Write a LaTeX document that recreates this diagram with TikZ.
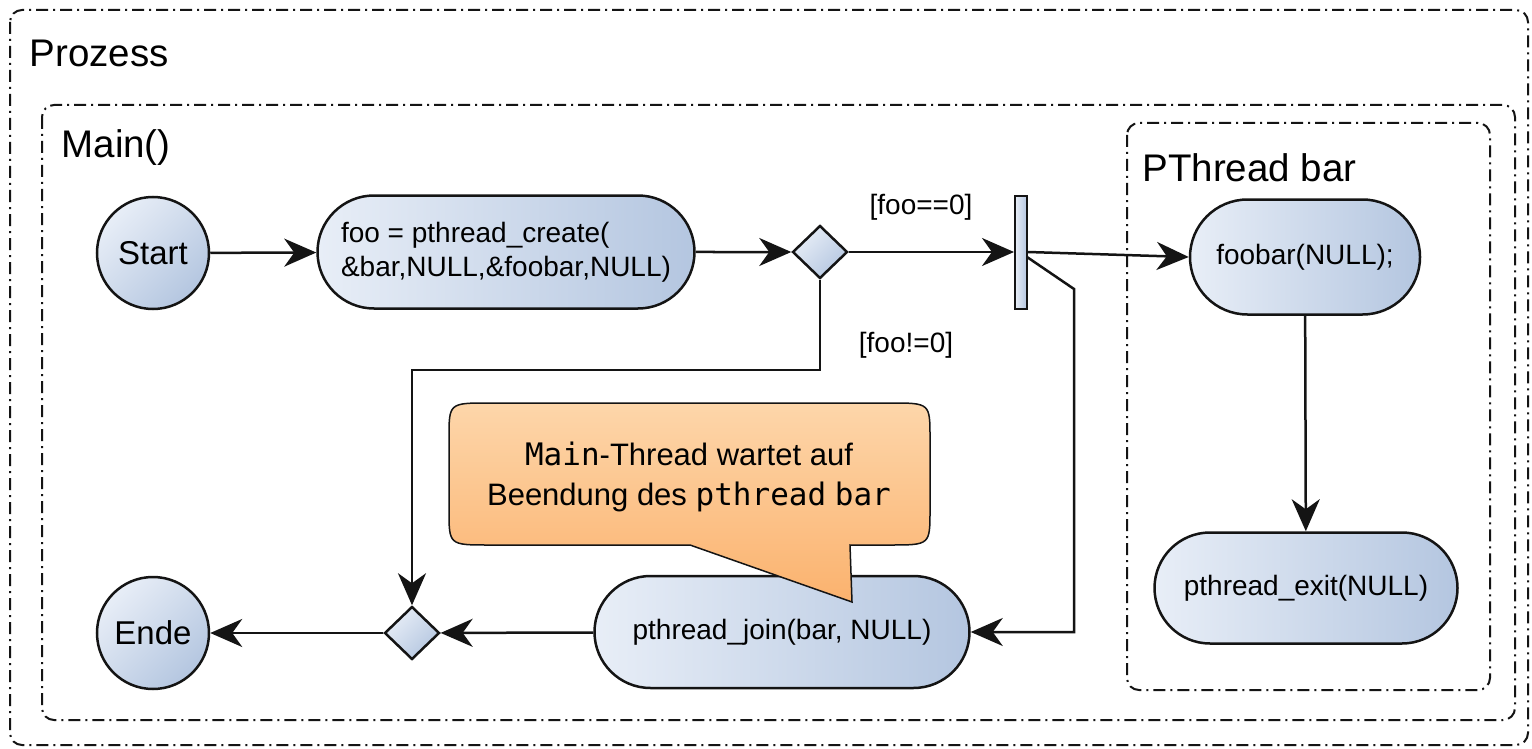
\documentclass[tikz,border=0pt]{standalone}
\usepackage{fontspec}
\setmainfont{Liberation Sans}
\setmonofont{DejaVu Sans Mono}
\usetikzlibrary{arrows.meta,shapes.geometric,shapes.misc}
\definecolor{lite}{RGB}{232,238,247}
\definecolor{dark}{RGB}{180,198,224}
\definecolor{peachtop}{RGB}{253,214,170}
\definecolor{peachbot}{RGB}{251,178,110}
\definecolor{lc}{RGB}{20,20,20}
\definecolor{shade}{RGB}{238,238,238}
\begin{document}
\begin{tikzpicture}[x=1pt,y=-1pt,
  every node/.style={font=\fontsize{28}{34}\selectfont, text=black},
  box/.style={draw=lc, line width=2pt, dash pattern=on 12pt off 5pt on 2pt off 5pt, rounded corners=12pt},
  boxlabel/.style={anchor=west, font=\fontsize{38.5}{46}\selectfont},
  act/.style={rounded rectangle, draw=lc, line width=2.5pt, left color=lite, right color=dark, inner sep=0pt},
  circ/.style={circle, draw=lc, line width=2.5pt, top color=lite, bottom color=dark, shading angle=45, minimum size=112pt, inner sep=0pt, font=\fontsize{33}{38}\selectfont},
  dia/.style={diamond, draw=lc, line width=2.5pt, top color=lite, bottom color=dark, shading angle=45, minimum width=55pt, minimum height=53pt, inner sep=0pt},
  forkbar/.style={rectangle, draw=lc, line width=2pt, left color=lite, right color=dark, minimum width=12pt, minimum height=113pt, inner sep=0pt},
  arr/.style={draw=lc, line width=2.5pt, -{Stealth[length=32pt,width=28pt,inset=10pt]}},
  lbl/.style={font=\fontsize{28}{34}\selectfont}
]
\useasboundingbox (0,0) rectangle (1532,749);
\fill[white] (0,0) rectangle (1532,749);

% containers
\draw[box] (10,10) rectangle (1528,745);
\draw[box] (42,105) rectangle (1515,720);
\draw[box] (1127,123) rectangle (1490,690);
\node[boxlabel] (lproz) at (26,53) {Prozess};
\node[boxlabel] (lmain) at (58,148) {Main()};
\node[boxlabel] (lbar) at (1139,168) {PThread bar};

% nodes
\node[circ] (start) at (153,253) {Start};
\node[act, minimum width=377pt, minimum height=113pt, align=left] (create) at (506,252)
  {foo = pthread\_create(\\\&bar,NULL,\&foobar,NULL)};
\node[dia] (d1) at (820,252) {};
\node[forkbar] (fork) at (1021,252) {};
\coordinate (forkout) at (1027,257);
\node[act, minimum width=230pt, minimum height=115pt] (foobar) at (1305,257) {foobar(NULL);};
\node[act, minimum width=303pt, minimum height=111pt] (exit) at (1306,588) {pthread\_exit(NULL)};
\node[act, minimum width=375pt, minimum height=112pt] (join) at (782,632) {pthread\_join(bar, NULL)};
\node[dia] (d2) at (412,633) {};
\node[circ] (ende) at (153,633) {Ende};

% guard labels
\node[lbl] (g1) at (921,207) {[foo==0]};
\node[lbl] (g2) at (906,345) {[foo!=0]};

% edges
\draw[arr] (start) -- (create);
\draw[arr] (create) -- (d1);
\draw[arr] (d1) -- (fork);
\draw[arr] (fork.east) -- (foobar.west);
\draw[arr] (foobar) -- (exit);
\draw[arr] (forkout) -- (1074,289) -- (1074,632) -- (join.east);
\draw[arr] (d1.south) -- (820,370) -- (412,370) -- (d2.north);
\draw[arr] (join) -- (d2);
\draw[arr] (d2) -- (ende);

% callout
\path[draw=lc, line width=1.5pt, top color=peachtop, bottom color=peachbot]
  (690,545) -- (489,545) .. controls (449,545) .. (449,510) -- (449,438)
  .. controls (449,403) .. (489,403) -- (890,403) .. controls (930,403) .. (930,438)
  -- (930,510) .. controls (930,545) .. (890,545) -- (850,545) -- (852,602) -- cycle;
\node[align=center, font=\fontsize{31}{40}\selectfont] (ctext) at (689,477)
  {\texttt{Main}-Thread wartet auf\\Beendung des \texttt{pthread} \texttt{bar}};
\end{tikzpicture}
\end{document}
